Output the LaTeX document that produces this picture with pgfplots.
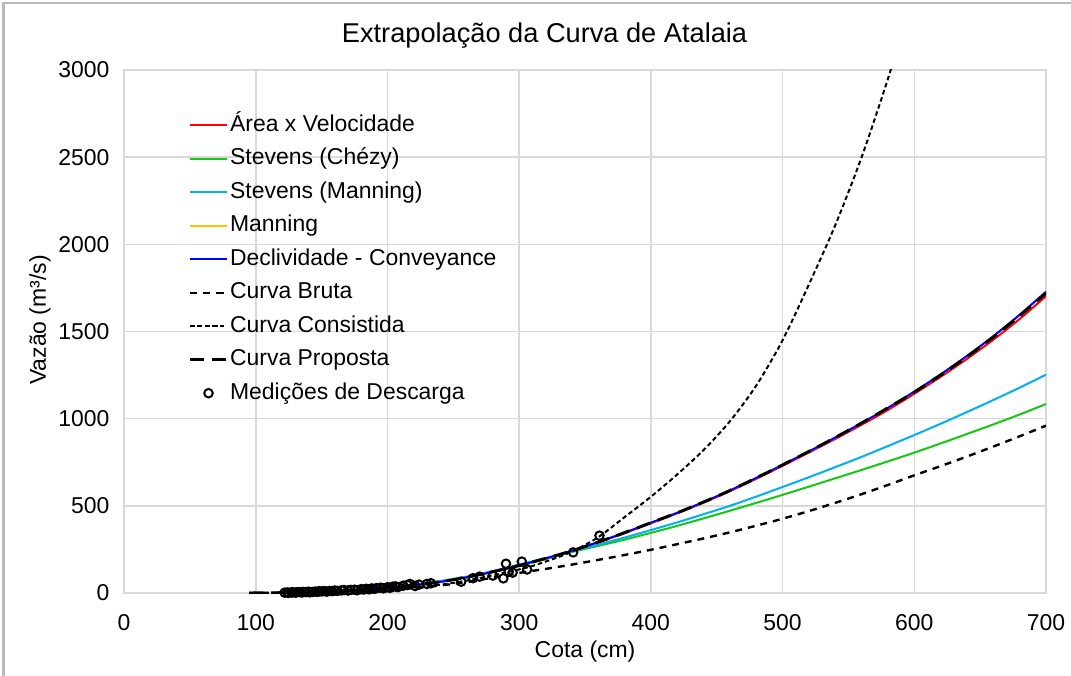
\documentclass[border=0pt]{standalone}
\usepackage{pgfplots}
\pgfplotsset{compat=1.18}
\usepackage{fontspec}
\setmainfont{Liberation Sans}

\definecolor{cRed}{RGB}{255,0,0}
\definecolor{cGreen}{RGB}{20,200,20}
\definecolor{cCyan}{RGB}{0,176,240}
\definecolor{cOrange}{RGB}{255,192,0}
\definecolor{cBlue}{RGB}{0,0,255}
\definecolor{cGrid}{RGB}{217,217,217}

\pgfplotstableread{
x y
120 2
140 6
160 11
180 19
200 30
220 45
240 64
260 90
280 122
300 158
320 198
340 242
360 292
380 346
400 403
420 460
440 522
460 588
480 660
500 735
520 812
540 892
560 975
580 1062
600 1155
620 1254
640 1360
660 1473
680 1596
700 1728
}\tblBlue

\pgfplotstableread{
x y
120 2
140 6
160 11
180 19
200 30
220 45
240 64
260 89
280 121
300 157
320 197
340 240
360 290
380 343
400 400
420 457
440 518
460 584
480 655
500 730
520 806
540 884
560 965
580 1050
600 1143
620 1240
640 1343
660 1453
680 1572
700 1703
}\tblRed

\pgfplotstableread{
x y
120 3
140 7
160 13
180 22
200 34
220 49
240 69
260 94
280 126
300 163
320 200
340 238
360 277
380 318
400 361
420 405
440 452
460 500
480 553
500 608
520 664
540 722
560 781
580 843
600 906
620 971
640 1038
660 1107
680 1178
700 1252
}\tblCyan

\pgfplotstableread{
x y
120 2
140 6
160 12
180 20
200 31
220 46
240 65
260 90
280 120
300 155
320 195
340 235
360 270
380 306
400 345
420 385
440 428
460 472
480 517
500 563
520 610
540 658
560 706
580 755
600 805
620 858
640 912
660 967
680 1024
700 1084
}\tblGreen

\pgfplotstableread{
x y
95 0
120 1
150 4
200 16
250 52
280 88
300 115
320 138
340 163
360 190
380 218
400 248
420 280
440 313
460 348
480 386
500 426
520 470
540 517
560 567
580 620
600 675
620 728
640 783
660 840
680 899
700 960
}\tblBruta

\pgfplotstableread{
x y
95 0
120 1
150 5
200 20
250 58
300 135
320 180
340 237
360 320
380 435
400 552
420 680
440 820
460 985
480 1190
500 1450
520 1770
540 2110
560 2500
580 2950
600 3450
}\tblConsist

\pgfplotstableread{
x y
95 0
110 1
120 2
140 6
160 11
180 19
200 30
220 45
240 64
260 90
280 122
300 158
320 198
340 242
360 292
380 346
400 403
420 460
440 522
460 588
480 660
500 735
520 812
540 892
560 975
580 1062
600 1152
620 1250
640 1355
660 1468
680 1590
700 1720
}\tblProp

\pgfplotstableread{
x y
122 2
124 3
125 1
127 3
128 4
130 2
131 4
133 5
135 3
136 6
138 5
140 7
141 4
143 6
145 8
147 7
148 10
150 9
152 11
154 8
156 12
158 11
160 14
162 12
165 15
167 17
170 14
172 18
175 19
177 16
180 22
182 20
184 24
186 21
188 26
190 24
192 28
195 30
197 27
200 33
202 30
204 36
206 38
208 34
212 42
215 46
217 52
221 40
224 48
230 52
233 56
256 65
265 85
270 94
280 100
288 84
290 168
292 122
295 117
302 180
306 135
341 233
361 329
}\tblMed

\begin{document}
\begin{tikzpicture}[font=\fontsize{8.6}{10}\selectfont]
\path[use as bounding box] (-46.5pt,-31.125pt) rectangle (355.125pt,222.375pt);
\draw[gray!55, line width=0.8pt] (-45.2pt,-32pt) -- (-45.2pt,221.1pt) -- (356pt,221.1pt);
\begin{axis}[
  at={(0pt,0pt)}, anchor=south west,
  scale only axis, width=345.75pt, height=196.125pt,
  xmin=0, xmax=700, ymin=0, ymax=3000,
  xtick={0,100,...,700}, ytick={0,500,...,3000},
  grid=major, grid style={cGrid, line width=0.6pt},
  axis line style={cGrid, line width=0.6pt},
  major tick length=0pt,
  /pgf/number format/assume math mode=true,
  /pgf/number format/1000 sep={},
  ticklabel style={font=\fontsize{8.6}{10}\selectfont, inner sep=0pt},
  xticklabel style={anchor=base, yshift=-14pt},
  yticklabel style={anchor=east, xshift=-5.25pt},
  legend style={at={(0.0694,0.917)}, anchor=north west, draw=none, fill=none,
    inner sep=0pt, row sep=4.06pt, column sep=0.6pt,
    nodes={inner sep=0pt, text height=6.5pt, text depth=2pt, font=\fontsize{8.6}{10}\selectfont}},
  legend cell align=left,
  legend image code/.code={\draw[mark repeat=2,mark phase=2,#1] plot coordinates {(0pt,0pt) (6.95pt,0pt) (13.9pt,0pt)};},
]
\addplot[cRed, line width=0.75pt, smooth] table {\tblRed};
\addlegendentry{Área x Velocidade}
\addplot[cGreen, line width=0.75pt, smooth] table {\tblGreen};
\addlegendentry{Stevens (Chézy)}
\addplot[cCyan, line width=0.75pt, smooth] table {\tblCyan};
\addlegendentry{Stevens (Manning)}
\addplot[cOrange, line width=0.75pt, smooth] table {\tblBlue};
\addlegendentry{Manning}
\addplot[cBlue, line width=0.75pt, smooth] table {\tblBlue};
\addlegendentry{Declividade - Conveyance}
\addplot[black, line width=0.9pt, dash pattern=on 2.6pt off 2.25pt, smooth] table {\tblBruta};
\addlegendentry{Curva Bruta}
\addplot[black, line width=0.75pt, dash pattern=on 1.7pt off 1.1pt, smooth] table {\tblConsist};
\addlegendentry{Curva Consistida}
\addplot[black, line width=1.1pt, dash pattern=on 5.25pt off 3pt, smooth] table {\tblProp};
\addlegendentry{Curva Proposta}
\addplot[black, only marks, mark=o, mark size=1.6pt, mark options={line width=0.75pt}] table {\tblMed};
\addlegendentry{Medições de Descarga}
\end{axis}
\node[anchor=base, font=\fontsize{10.2}{12}\selectfont] at (157.7pt,206.6pt) {Extrapolação da Curva de Atalaia};
\node[anchor=base] at (172.9pt,-24pt) {Cota (cm)};
\node[rotate=90] at (-31.5pt,102.4pt) {Vazão (m³/s)};
\end{tikzpicture}
\end{document}
